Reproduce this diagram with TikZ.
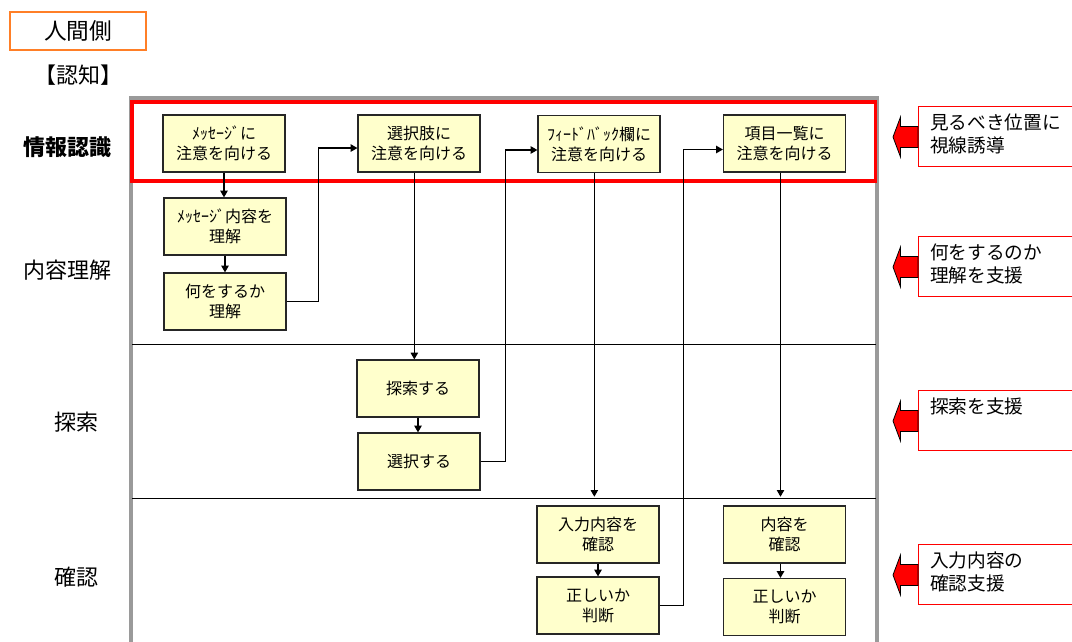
\documentclass[tikz,border=0pt]{standalone}
\usepackage{fontspec}
\setmainfont{Noto Sans CJK JP}
\usetikzlibrary{arrows.meta}
\definecolor{boxfill}{HTML}{FFFFCC}
\definecolor{framegray}{HTML}{9A9A9A}
\definecolor{callred}{HTML}{FF0000}
\definecolor{orangeb}{HTML}{FF7F27}
\newcommand\blockarr[1]{%
  \draw[fill=callred, draw=black, line width=0.6pt]
    (893,#1) -- (900.5,#1-20) -- (900.5,#1-10.5) -- (918,#1-10.5)
    -- (918,#1+10.5) -- (900.5,#1+10.5) -- (900.5,#1+20) -- cycle;}
\begin{document}
\begin{tikzpicture}[x=0.75pt,y=-0.75pt,
  proc/.style={draw=black!85, fill=boxfill, line width=0.9pt,
    minimum width=91.5pt, minimum height=42.75pt, inner sep=0pt,
    align=center, font=\fontsize{12}{15}\selectfont},
  flow/.style={-{Triangle[length=5pt,width=5.5pt]}, line width=0.9pt},
  lanelabel/.style={font=\fontsize{16.5}{18}\selectfont, inner sep=0pt},
  notebox/.style={draw=callred, line width=0.8pt, fill=white,
    anchor=north west, minimum width=124pt, minimum height=45pt, inner sep=0pt},
  notetext/.style={anchor=north west, align=left, inner sep=0pt,
    font=\fontsize{14}{17.25}\selectfont},
  sep/.style={line width=0.75pt, draw=black}
]
\useasboundingbox (0,0) rectangle (1072,642);
\clip (0,0) rectangle (1072,642);

% header
\node[draw=orangeb, line width=0.9pt, minimum width=102pt, minimum height=28.5pt,
  inner sep=0pt, font=\fontsize{17}{18}\selectfont] (side) at (78,31) {人間側};
\node[lanelabel] (cog) at (78,75) {【認知】};

% frame
\draw[framegray, line width=2.6pt] (131,660) -- (131,98) -- (877,98) -- (877,660);
\draw[sep] (132,344) -- (876,344);
\draw[sep] (132,498) -- (876,498);
\draw[callred, line width=2.7pt] (132,102) rectangle (875.5,181);

% lane labels
\node[lanelabel, font=\fontsize{16.5}{18}\selectfont\bfseries] (l1) at (67,147) {情報認識};
\node[lanelabel] (l2) at (67,270) {内容理解};
\node[lanelabel] (l3) at (76,422) {探索};
\node[lanelabel] (l4) at (77,577) {確認};

% process boxes
\node[proc] (m1) at (224,143.5) {ﾒｯｾｰｼﾞに\\注意を向ける};
\node[proc] (m2) at (225,226.5) {ﾒｯｾｰｼﾞ内容を\\理解};
\node[proc] (m3) at (225,301.5) {何をするか\\理解};
\node[proc] (s1) at (419,143.5) {選択肢に\\注意を向ける};
\node[proc] (f1) at (599,144) {ﾌｨｰﾄﾞﾊﾞｯｸ欄に\\注意を向ける};
\node[proc] (k1) at (784.5,143.5) {項目一覧に\\注意を向ける};
\node[proc] (t1) at (418,388.5) {探索する};
\node[proc] (t2) at (419,461.5) {選択する};
\node[proc] (c1) at (598,534.5) {入力内容を\\確認};
\node[proc] (c2) at (598,605.5) {正しいか\\判断};
\node[proc] (d1) at (784.5,534.5) {内容を\\確認};
\node[proc] (d2) at (784.5,607) {正しいか\\判断};

% connectors
\draw[flow] (m1.south) -- (m1.south |- m2.north);
\draw[flow] (m2.south) -- (m2.south |- m3.north);
\draw[flow] (m3.east) -- ++(32,0) |- ([yshift=-3.4pt]s1.west);
\draw[flow] ([xshift=-3.5pt]s1.south) -- ([xshift=-3.5pt]s1.south |- t1.north);
\draw[flow] (t1.south) -- (t1.south |- t2.north);
\draw[flow] (t2.east) -- ++(25,0) |- ([yshift=-4.5pt]f1.west);
\draw[flow, shorten >=6.5pt] ([xshift=-3.5pt]f1.south) -- ([xshift=-3.5pt]f1.south |- c1.north);
\draw[flow] (c1.south) -- (c1.south |- c2.north);
\draw[flow] (c2.east) -- ++(24,0) |- ([yshift=-4.5pt]k1.west);
\draw[flow, shorten >=6.5pt] ([xshift=-3pt]k1.south) -- ([xshift=-3pt]k1.south |- d1.north);
\draw[flow] ([xshift=-3pt]d1.south) -- ([xshift=-3pt]d1.south |- d2.north);

% callouts
\node[notebox] (n1) at (918,106) {};
\node[notebox] (n2) at (918,236) {};
\node[notebox] (n3) at (918,390) {};
\node[notebox] (n4) at (918,544) {};
\node[notetext] (n1t) at (930,114) {見るべき位置に\\視線誘導};
\node[notetext] (n2t) at (930,244) {何をするのか\\理解を支援};
\node[notetext] (n3t) at (930,398) {探索を支援};
\node[notetext] (n4t) at (930,552) {入力内容の\\確認支援};
\blockarr{137}
\blockarr{267}
\blockarr{421}
\blockarr{575}
\end{tikzpicture}
\end{document}
